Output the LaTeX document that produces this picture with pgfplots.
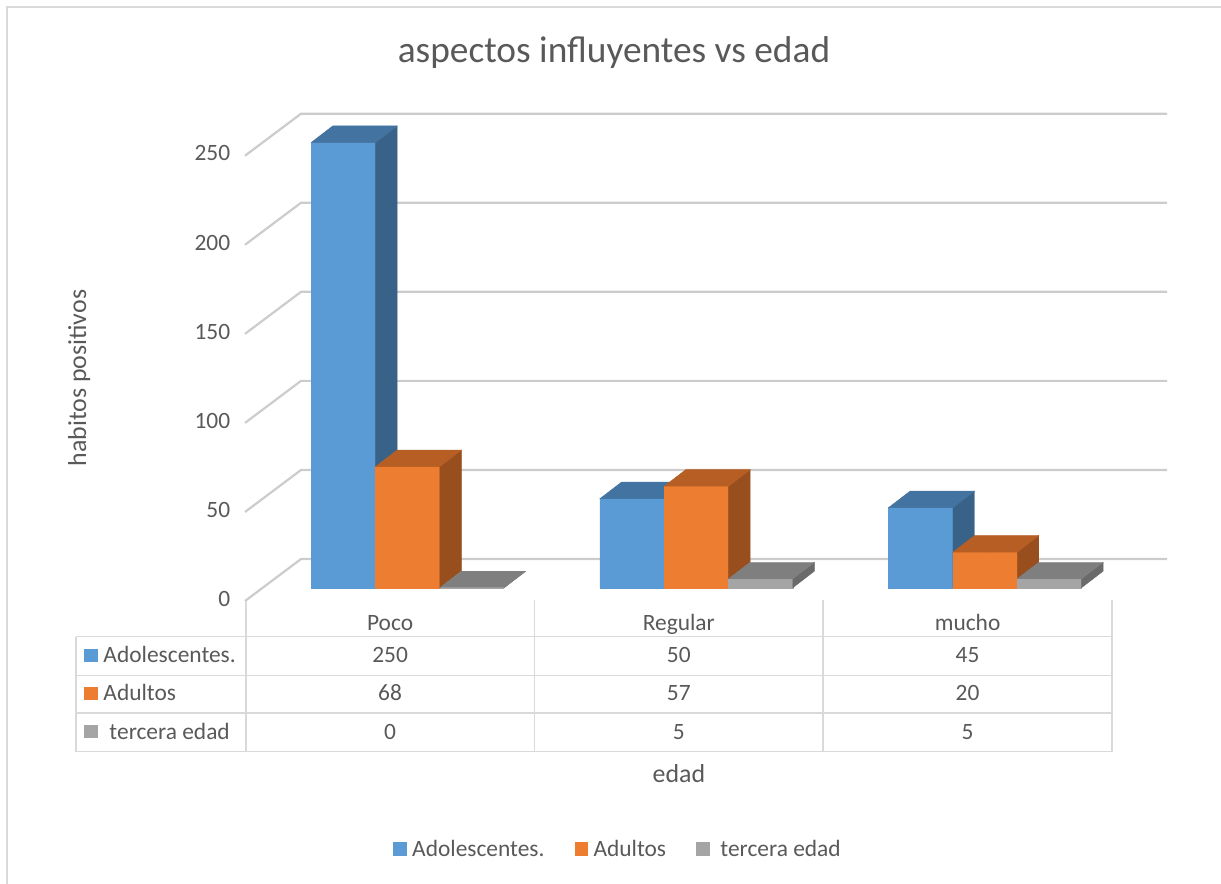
\documentclass[border=0pt]{standalone}
\usepackage{fontspec}
\setmainfont{Carlito}
\usepackage{pgfplots}
\usepackage{pgfplotstable}
\pgfplotsset{compat=1.18}

\definecolor{txt}{RGB}{89,89,89}
\definecolor{gridc}{RGB}{204,204,204}
\definecolor{tabc}{RGB}{217,217,217}
\definecolor{adoF}{RGB}{91,155,213}
\definecolor{adoT}{RGB}{67,115,160}
\definecolor{adoS}{RGB}{57,98,136}
\definecolor{aduF}{RGB}{237,125,49}
\definecolor{aduT}{RGB}{182,94,35}
\definecolor{aduS}{RGB}{152,78,29}
\definecolor{terF}{RGB}{165,165,165}
\definecolor{terT}{RGB}{127,127,127}
\definecolor{terS}{RGB}{106,106,106}

\pgfplotstableread{
cat     ado adu ter
Poco    250 68  0
Regular 50  57  5
mucho   45  20  5
}\datos

\newcommand\body{\fontsize{23.5}{28}\selectfont}
\newcommand\axtitle{\fontsize{26}{31}\selectfont}

% a whole column (front, right side, top), drawn from the top of its front face
% #1 bar shift, #2 front colour, #3 top colour, #4 side colour; \val is the column height
\newcommand\caras[4]{%
  \pgfmathsetmacro\h{\val*1.781}%
  \fill[#2, fill opacity=1] ({#1-32.15bp},{-\h bp}) rectangle ({#1+32.15bp},0bp);
  \fill[#4, fill opacity=1] ({#1+32.15bp},0bp) -- ({#1+53.65bp},16.5bp) -- ({#1+53.65bp},{16.5bp-\h bp}) -- ({#1+32.15bp},{-\h bp}) -- cycle;
  \fill[#3, fill opacity=1] ({#1-32.15bp},0bp) -- ({#1+32.15bp},0bp) -- ({#1+53.65bp},16.5bp) -- ({#1-10.65bp},16.5bp) -- cycle;
}
\pgfplotsset{
  caras/.style n args={4}{
    forget plot, only marks, scatter, mark=*, mark size=0pt,
    mark options={draw=none, fill=none},
    visualization depends on={rawy \as \val},
    scatter/@pre marker code/.code={\caras{#1}{#2}{#3}{#4}},
    scatter/@post marker code/.code={},
  },
  cuadro/.style={legend image code/.code={\fill[#1] (0bp,-6.7bp) rectangle (13.4bp,6.7bp);}},
}

\begin{document}
\begin{tikzpicture}
\path[use as bounding box] (0bp,0bp) rectangle (1221bp,884bp);

\begin{scope}[x=1bp,y=1bp]
  % chart area border
  \draw[tabc, line width=2bp] (7,-2) -- (7,877) -- (1223,877);
  % title
  \node[anchor=base, text=txt, font=\fontsize{37.5}{45}\selectfont] at (614,821) {aspectos influyentes vs edad};
  % axis titles
  \node[anchor=base, rotate=90, text=txt, font=\axtitle] at (86,506) {habitos positivos};
  \node[anchor=base, text=txt, font=\axtitle] at (679,101.3) {edad};
  % data table grid
  \begin{scope}[tabc, line width=1.6bp]
    \foreach \yy in {247.3,208.3,170.7,132.3} \draw (75.7,\yy) -- (1112,\yy);
    \draw (75.7,247.3) -- (75.7,132.3);
    \draw (245.7,283) -- (245.7,132.3);
    \foreach \xx in {534.4,823.2,1112} \draw (\xx,284) -- (\xx,132.3);
  \end{scope}
  % row headers
  \fill[adoF] (84.3,221.6) rectangle (97.7,235);
  \fill[aduF] (84.3,183.6) rectangle (97.7,197);
  \fill[terF] (84.3,145.6) rectangle (97.7,159);
  \node[anchor=base west, inner sep=0pt, text=txt, font=\body] at (103.3,221.3) {Adolescentes.};
  \node[anchor=base west, inner sep=0pt, text=txt, font=\body] at (103.3,183.3) {Adultos};
  \node[anchor=base west, inner sep=0pt, text=txt, font=\body] at (109.3,145) {tercera edad};
  % column headers and values
  \foreach \c/\xx in {0/390.1,1/678.8,2/967.6}{
    \pgfplotstablegetelem{\c}{cat}\of\datos
    \node[anchor=base, inner sep=0pt, text=txt, font=\body] at (\xx,253.5) {\pgfplotsretval};
    \pgfplotstablegetelem{\c}{ado}\of\datos
    \node[anchor=base, inner sep=0pt, text=txt, font=\body] at (\xx,221.3) {\pgfplotsretval};
    \pgfplotstablegetelem{\c}{adu}\of\datos
    \node[anchor=base, inner sep=0pt, text=txt, font=\body] at (\xx,183.3) {\pgfplotsretval};
    \pgfplotstablegetelem{\c}{ter}\of\datos
    \node[anchor=base, inner sep=0pt, text=txt, font=\body] at (\xx,145) {\pgfplotsretval};
  }
\end{scope}

\begin{axis}[
  at={(263.35bp,296.3bp)}, anchor=south west,
  x=288.7bp, y=1.781bp,
  xmin=-0.5, xmax=2.5, ymin=0, ymax=250,
  enlargelimits=false, clip=false,
  axis line style={draw=none},
  major tick length=0pt,
  xtick=\empty,
  ytick={0,50,...,250},
  /pgf/number format/assume math mode=true,
  yticklabel style={anchor=east, inner sep=0pt, xshift=-33bp, yshift=-11bp, text=txt, font=\body},
  legend columns=-1,
  legend style={at={(0.1497,-0.5869)}, anchor=west, draw=none, fill=none,
    inner sep=0pt, font=\body, text=txt,
    nodes={inner sep=0pt, text=txt},
    column sep=5.6bp,
    /tikz/every even column/.append style={column sep=30bp}},
  legend cell align=left,
]
  % back wall and side wall gridlines
  \pgfplotsinvokeforeach{0,50,...,250}{
    \draw[gridc, line width=2.2bp]
      ([xshift=-18.35bp,yshift=-13.3bp]axis cs:-0.5,#1)
      -- ([xshift=37.65bp,yshift=28.7bp]axis cs:-0.5,#1)
      -- ([xshift=37.65bp,yshift=28.7bp]axis cs:2.5,#1);
  }

  \addplot[ybar, bar width=64.3bp, bar shift=-64.3bp, fill=adoF, draw=none, cuadro=adoF]
    table[x expr=\coordindex, y=ado] {\datos};
  \addlegendentry{Adolescentes.}
  \addplot[caras={-64.3bp}{adoF}{adoT}{adoS}] table[x expr=\coordindex, y=ado] {\datos};

  \addplot[ybar, bar width=64.3bp, bar shift=0bp, fill=aduF, draw=none, cuadro=aduF]
    table[x expr=\coordindex, y=adu] {\datos};
  \addlegendentry{Adultos}
  \addplot[caras={0bp}{aduF}{aduT}{aduS}] table[x expr=\coordindex, y=adu] {\datos};

  \addplot[ybar, bar width=64.3bp, bar shift=64.3bp, fill=terF, draw=none, cuadro=terF]
    table[x expr=\coordindex, y=ter] {\datos};
  \addlegendentry{\hspace{5.3bp}tercera edad}
  \addplot[caras={64.3bp}{terF}{terT}{terS}] table[x expr=\coordindex, y=ter] {\datos};
\end{axis}
\end{tikzpicture}
\end{document}
